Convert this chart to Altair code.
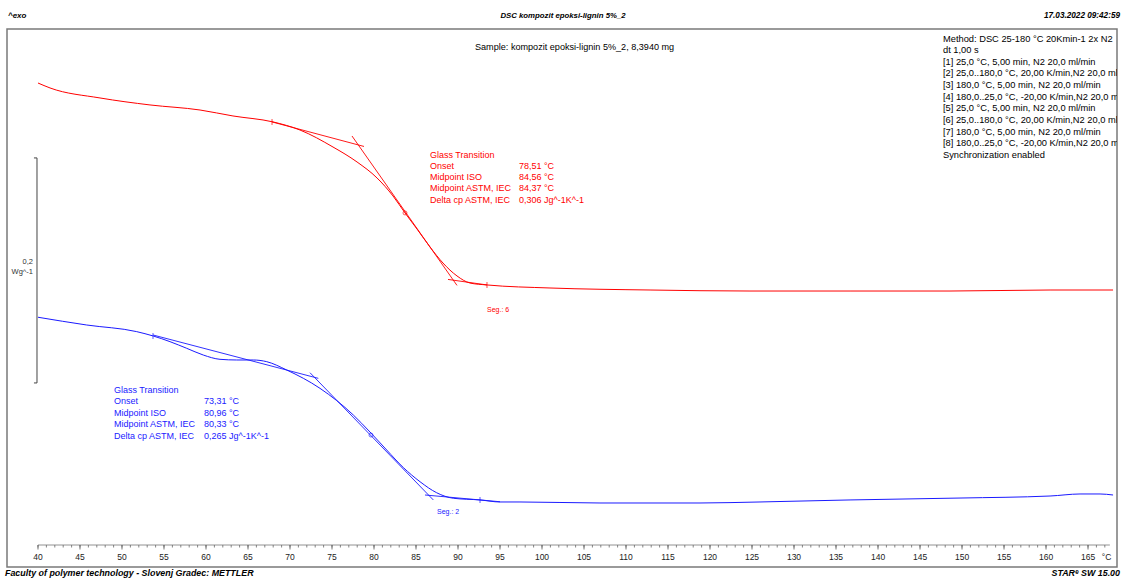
import altair as alt
import pandas as pd

# ---------------- data ----------------
# Segment 6 (red) heating curve: temperature (°C) and heat flow (W/g)
red_T = [40.0, 41.43, 47.38, 53.33, 59.29, 63.21, 67.98, 71.19, 75.12, 77.98, 80.36,
         82.26, 83.69, 85.12, 86.67, 88.21, 89.88, 91.43, 93.45, 100.95, 112.86, 124.76,
         136.67, 148.57, 160.48, 167.98]
red_hf = [0.4302, 0.4258, 0.4169, 0.4107, 0.4062, 0.4009, 0.3956, 0.3884, 0.3733, 0.3600, 0.3458,
          0.3298, 0.3147, 0.3004, 0.2844, 0.2702, 0.2587, 0.2524, 0.2507, 0.2480, 0.2462, 0.2453,
          0.2453, 0.2453, 0.2462, 0.2462]

# Segment 2 (blue) heating curve
blue_T = [40.0, 45.80, 51.75, 53.73, 55.71, 57.70, 59.68, 61.67, 63.65, 65.63, 67.23, 69.61,
          73.57, 77.54, 79.52, 81.51, 83.49, 85.48, 87.46, 89.44, 92.62, 95.0, 97.38, 106.90,
          118.81, 125.95, 136.67, 149.76, 160.48, 164.05, 166.43, 167.98]
blue_hf = [0.2220, 0.2151, 0.2092, 0.2053, 0.2003, 0.1944, 0.1884, 0.1846, 0.1840, 0.1840, 0.1825,
           0.1751, 0.1588, 0.1351, 0.1200, 0.1040, 0.0884, 0.0758, 0.0660, 0.0611, 0.0596, 0.0578,
           0.0578, 0.0569, 0.0569, 0.0578, 0.0596, 0.0613, 0.0631, 0.0649, 0.0649, 0.0640]

# Tangent construction lines (start / end)
red_tan_T0 = [67.86, 77.38, 88.81]
red_tan_T1 = [78.81, 89.88, 93.45]
red_tan_h0 = [0.3956, 0.3831, 0.2556]
red_tan_h1 = [0.3738, 0.2503, 0.2507]
blue_tan_T0 = [53.70, 72.38, 86.07]
blue_tan_T1 = [73.37, 87.06, 95.00]
blue_tan_h0 = [0.2062, 0.1727, 0.0640]
blue_tan_h1 = [0.1677, 0.0596, 0.0580]

# Evaluation limit markers and midpoint markers
red_lim_T = [67.86, 93.45]
red_lim_hf = [0.3956, 0.2507]
blue_lim_T = [53.69, 92.62]
blue_lim_hf = [0.2053, 0.0596]
mid_T = [83.69, 79.64]
mid_hf = [0.3147, 0.1173]

# Scale bar (0,2 W/g)
bar_T = [39.88]
bar_lo = [0.1636]
bar_hi = [0.3636]
bar_tick_T0 = [39.52]

# tick values
minor_ticks = list(range(40, 168))
major_ticks = list(range(40, 170, 5))

# texts
header_left = "^exo"
header_title = "DSC kompozit epoksi-lignin 5%_2"
header_date = "17.03.2022 09:42:59"
footer_left = "Faculty of polymer technology - Slovenj Gradec: METTLER"
footer_right = "STARᵉ SW 15.00"
sample_text = "Sample: kompozit epoksi-lignin 5%_2, 8,3940 mg"
method_lines = [
    "Method: DSC 25-180 °C 20Kmin-1 2x N2",
    "dt 1,00 s",
    "[1] 25,0 °C, 5,00 min,  N2 20,0 ml/min",
    "[2] 25,0..180,0 °C, 20,00 K/min,N2 20,0 ml/min",
    "[3] 180,0 °C, 5,00 min, N2 20,0 ml/min",
    "[4] 180,0..25,0 °C, -20,00 K/min,N2 20,0 ml/min",
    "[5] 25,0 °C, 5,00 min,  N2 20,0 ml/min",
    "[6] 25,0..180,0 °C, 20,00 K/min,N2 20,0 ml/min",
    "[7] 180,0 °C, 5,00 min, N2 20,0 ml/min",
    "[8] 180,0..25,0 °C, -20,00 K/min,N2 20,0 ml/min",
    "Synchronization enabled",
]
gt_labels = ["Glass Transition", "Onset", "Midpoint ISO", "Midpoint ASTM, IEC", "Delta cp ASTM, IEC"]
red_gt_values = ["", "78,51 °C", "84,56 °C", "84,37 °C", "0,306 Jg^-1K^-1"]
blue_gt_values = ["", "73,31 °C", "80,96 °C", "80,33 °C", "0,265 Jg^-1K^-1"]
scale_label = ["0,2", "Wg^-1"]

# ---------------- styling ----------------
RED = "#ff0000"
BLUE = "#1a1aff"
FONT = "Liberation Sans"
W, H = 1110, 538
AXIS_Y = H - 22

xscale = alt.Scale(domain=[36.31, 168.45], nice=False, zero=False)
yscale = alt.Scale(domain=[0, 0.4782], nice=False, zero=False)
cscale = alt.Scale(domain=["seg6", "seg2"], range=[RED, BLUE])

curves = pd.concat([
    pd.DataFrame({"T": red_T, "hf": red_hf, "series": "seg6"}),
    pd.DataFrame({"T": blue_T, "hf": blue_hf, "series": "seg2"}),
])
tangents = pd.concat([
    pd.DataFrame({"T0": red_tan_T0, "T1": red_tan_T1, "h0": red_tan_h0, "h1": red_tan_h1, "series": "seg6"}),
    pd.DataFrame({"T0": blue_tan_T0, "T1": blue_tan_T1, "h0": blue_tan_h0, "h1": blue_tan_h1, "series": "seg2"}),
])
limits = pd.concat([
    pd.DataFrame({"T": red_lim_T, "hf": red_lim_hf, "series": "seg6"}),
    pd.DataFrame({"T": blue_lim_T, "hf": blue_lim_hf, "series": "seg2"}),
])
mids = pd.DataFrame({"T": mid_T, "hf": mid_hf, "series": ["seg6", "seg2"]})
bar = pd.DataFrame({"T": bar_T, "T0": bar_tick_T0, "lo": bar_lo, "hi": bar_hi})
one = pd.DataFrame({"a": [0]})
minor_df = pd.DataFrame({"v": minor_ticks})
major_df = pd.DataFrame({"v": major_ticks, "lab": [str(v) for v in major_ticks]})
unit_df = pd.DataFrame({"v": [167.2], "lab": ["°C"]})

color = alt.Color("series:N", scale=cscale, legend=None)

curve_layer = alt.Chart(curves).mark_line(strokeWidth=1, interpolate="monotone").encode(
    x=alt.X("T:Q", scale=xscale, axis=None),
    y=alt.Y("hf:Q", scale=yscale, axis=None),
    color=color, detail="series:N",
)
tan_layer = alt.Chart(tangents).mark_rule(strokeWidth=0.9).encode(
    x=alt.X("T0:Q", scale=xscale, axis=None), x2="T1:Q",
    y=alt.Y("h0:Q", scale=yscale, axis=None), y2="h1:Q",
    color=color,
)
lim_layer = alt.Chart(limits).mark_tick(orient="vertical", size=6, thickness=1).encode(
    x=alt.X("T:Q", scale=xscale, axis=None),
    y=alt.Y("hf:Q", scale=yscale, axis=None),
    color=color,
)
mid_layer = alt.Chart(mids).mark_point(shape="circle", size=16, filled=False, strokeWidth=0.9).encode(
    x=alt.X("T:Q", scale=xscale, axis=None),
    y=alt.Y("hf:Q", scale=yscale, axis=None),
    color=color,
)
bar_v = alt.Chart(bar).mark_rule(color="#444", strokeWidth=1).encode(
    x=alt.X("T:Q", scale=xscale, axis=None),
    y=alt.Y("lo:Q", scale=yscale, axis=None), y2="hi:Q",
)
bar_t1 = alt.Chart(bar).mark_rule(color="#444", strokeWidth=1).encode(
    x=alt.X("T0:Q", scale=xscale, axis=None), x2="T:Q",
    y=alt.Y("lo:Q", scale=yscale, axis=None),
)
bar_t2 = alt.Chart(bar).mark_rule(color="#444", strokeWidth=1).encode(
    x=alt.X("T0:Q", scale=xscale, axis=None), x2="T:Q",
    y=alt.Y("hi:Q", scale=yscale, axis=None),
)

# x axis drawn inside the frame: baseline, minor ticks, major ticks, labels
axis_line = alt.Chart(one).mark_rule(color="#777", strokeWidth=0.8).encode(
    x=alt.X(datum=40, scale=xscale, axis=None), x2=alt.X2(datum=167.6), y=alt.value(AXIS_Y),
)
minor_layer = alt.Chart(minor_df).mark_rule(color="#666", strokeWidth=0.8).encode(
    x=alt.X("v:Q", scale=xscale, axis=None), y=alt.value(AXIS_Y), y2=alt.value(AXIS_Y + 2.5),
)
major_layer = alt.Chart(major_df).mark_rule(color="#555", strokeWidth=0.8).encode(
    x=alt.X("v:Q", scale=xscale, axis=None), y=alt.value(AXIS_Y), y2=alt.value(AXIS_Y + 4.5),
)
label_layer = alt.Chart(major_df).mark_text(
    fontSize=8.5, font=FONT, color="#222", align="center", baseline="alphabetic"
).encode(
    x=alt.X("v:Q", scale=xscale, axis=None), y=alt.value(AXIS_Y + 14.5), text="lab:N",
)
unit_layer = alt.Chart(unit_df).mark_text(
    fontSize=8.5, font=FONT, color="#222", align="center", baseline="alphabetic"
).encode(
    x=alt.X("v:Q", scale=xscale, axis=None), y=alt.value(AXIS_Y + 14.5), text="lab:N",
)


def txt(content, x, y, size=9.2, color="#000", align="left", style="normal",
        weight="normal", line_height=None, clip=False):
    kw = dict(text=content, fontSize=size, color=color, align=align, baseline="alphabetic",
              font=FONT, fontStyle=style, fontWeight=weight, clip=clip)
    if line_height is not None:
        kw["lineHeight"] = line_height
    return alt.Chart(one).mark_text(**kw).encode(x=alt.value(x), y=alt.value(y))


texts = [
    txt(header_left, 1, -11, size=8, style="italic", weight="bold"),
    txt(header_title, 556, -11, size=7.8, style="italic", weight="bold", align="center"),
    txt(header_date, 1113, -11, size=8.2, style="italic", weight="bold", align="right"),
    txt(footer_left, -2, 547, size=8.9, style="italic", weight="bold"),
    txt(footer_right, 1113, 547, size=8.9, style="italic", weight="bold", align="right"),
    txt(sample_text, 468, 20.5, size=9.1),
    txt(method_lines, 936, 12.5, size=9.3, line_height=11.65, clip=True),
    txt(gt_labels, 423, 128.5, size=9, color=RED, line_height=11.25),
    txt(red_gt_values, 512, 128.5, size=9, color=RED, line_height=11.25),
    txt(gt_labels, 107, 363.5, size=9, color=BLUE, line_height=11.5),
    txt(blue_gt_values, 197, 363.5, size=9, color=BLUE, line_height=11.5),
    txt("Seg.: 6", 480, 282.5, size=7, color=RED),
    txt("Seg.: 2", 430, 484.5, size=7, color=BLUE),
    txt(scale_label, 26, 235, size=7.5, color="#333", align="right", line_height=10),
]

chart = alt.layer(
    curve_layer, tan_layer, lim_layer, mid_layer, bar_v, bar_t1, bar_t2,
    axis_line, minor_layer, major_layer, label_layer, unit_layer, *texts
).properties(
    width=W, height=H,
    padding={"left": 7, "top": 29, "right": 5, "bottom": 12},
    autosize=alt.AutoSizeParams(type="none"),
    background="white",
).configure_view(
    stroke="#7a7a7a", strokeWidth=1.5,
)

chart.save("out.html", embed_options={"renderer": "svg", "actions": False})
